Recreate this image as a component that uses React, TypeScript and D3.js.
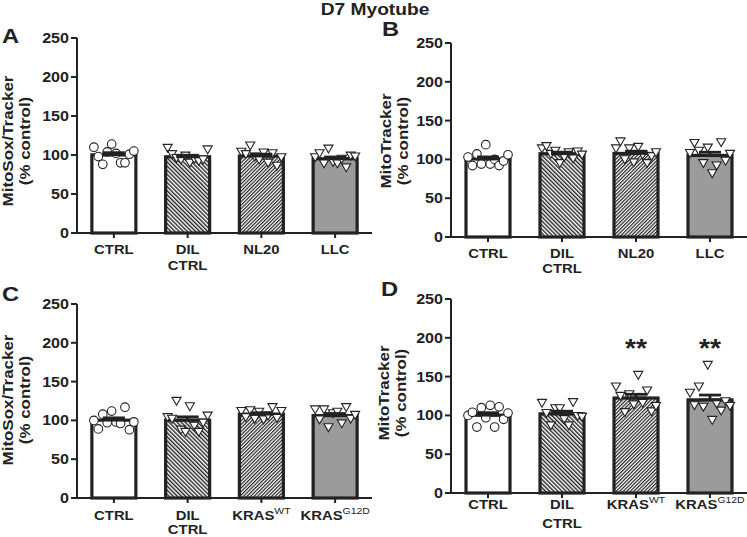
import React from "react";
import * as d3 from "d3";

const W = 747;
const H = 537;

const title = "D7 Myotube";
const yTicks = [0, 50, 100, 150, 200, 250];
const yMax = 250;

// category labels
const catsTop = [
  { main: "CTRL" },
  { main: "DIL", line2: "CTRL" },
  { main: "NL20" },
  { main: "LLC" },
];
const catsBottom = [
  { main: "CTRL" },
  { main: "DIL", line2: "CTRL" },
  { main: "KRAS", sup: "WT" },
  { main: "KRAS", sup: "G12D" },
];

// Panel A: MitoSox/Tracker (individual values, left to right within each bar)
const aCtrl = [110, 98, 88, 104, 114, 102, 90, 90, 101, 105];
const aDil = [109, 101, 96, 94, 99, 90, 95, 92, 94, 107];
const aNl20 = [104, 101, 112, 98, 94, 103, 90, 102, 86, 97];
const aLlc = [97, 102, 89, 108, 91, 89, 95, 84, 99, 98];

// Panel B: MitoTracker
const bCtrl = [103, 92, 107, 94, 119, 94, 100, 92, 98, 106];
const bDil = [114, 117, 107, 111, 95, 103, 109, 101, 110, 106];
const bNl20 = [114, 123, 100, 114, 96, 116, 106, 95, 104, 109];
const bLlc = [108, 121, 111, 95, 115, 82, 92, 122, 98, 107];

// Panel C: MitoSox/Tracker
const cCtrl = [100, 89, 108, 97, 112, 98, 96, 117, 88, 98];
const cDil = [104, 102, 125, 88, 85, 118, 93, 85, 97, 106];
const cKrasWt = [112, 104, 113, 102, 111, 101, 106, 117, 103, 112];
const cKrasG12d = [114, 101, 114, 91, 109, 111, 96, 117, 102, 107];

// Panel D: MitoTracker
const dCtrl = [100, 104, 85, 110, 97, 113, 85, 111, 95, 103];
const dDil = [116, 103, 87, 109, 109, 95, 87, 117, 99, 98];
const dKrasWt = [137, 125, 104, 127, 114, 152, 116, 132, 105, 112];
const dKrasG12d = [129, 113, 137, 111, 165, 94, 115, 106, 118, 112];

const dStars = ["", "", "**", "**"];
const starLevel = 193;

const FONT = "'Liberation Sans', Arial, Helvetica, sans-serif";
const INK = "#222";
const GRAY = "#9b9b9b";
const TX = 1.13; // horizontal text stretch

const panels = [
  {
    letter: "A", ylab: "MitoSox/Tracker", cats: catsTop,
    series: [aCtrl, aDil, aNl20, aLlc], stars: null,
    L: { ax: 77, axEnd: 372, y0: 233, y250: 38, lx: 2, ly: 43, yl1: 13, yl2: 30, ylc: 141, t1: 254, t2: 270 },
  },
  {
    letter: "B", ylab: "MitoTracker", cats: catsTop,
    series: [bCtrl, bDil, bNl20, bLlc], stars: null,
    L: { ax: 451, axEnd: 747, y0: 237, y250: 43, lx: 382, ly: 36, yl1: 391, yl2: 408, ylc: 141, t1: 258, t2: 273 },
  },
  {
    letter: "C", ylab: "MitoSox/Tracker", cats: catsBottom,
    series: [cCtrl, cDil, cKrasWt, cKrasG12d], stars: null,
    L: { ax: 77, axEnd: 372, y0: 498, y250: 304, lx: 2, ly: 301, yl1: 13, yl2: 30, ylc: 400, t1: 520, t2: 534 },
  },
  {
    letter: "D", ylab: "MitoTracker", cats: catsBottom,
    series: [dCtrl, dDil, dKrasWt, dKrasG12d], stars: dStars,
    L: { ax: 451, axEnd: 747, y0: 493, y250: 299, lx: 381, ly: 296, yl1: 389, yl2: 406, ylc: 393, t1: 509, t2: 528 },
  },
];

const fills = ["#fff", "url(#hatchBack)", "url(#hatchFwd)", GRAY];

const triPath = d3.symbol().type(d3.symbolTriangle).size(36)() as string;

function Panel({ p }: { p: any }) {
  const L = p.L;
  const y = d3.scaleLinear().domain([0, yMax]).range([L.y0, L.y250]);
  const x = d3.scalePoint<number>().domain(d3.range(p.cats.length)).range([L.ax, L.axEnd]).padding(0.5);
  const bw = 44;
  return (
    <g>
      {/* panel letter */}
      <g transform={`translate(${L.lx},${L.ly}) scale(${TX},1)`}>
        <text fontSize={21} fontWeight="bold" fontFamily={FONT} fill={INK}>{p.letter}</text>
      </g>
      {/* y label */}
      <g transform={`translate(${L.yl1},${L.ylc}) rotate(-90) scale(${TX},1)`}>
        <text textAnchor="middle" fontSize={15} fontWeight="bold" fontFamily={FONT} fill={INK}>{p.ylab}</text>
      </g>
      <g transform={`translate(${L.yl2},${L.ylc}) rotate(-90) scale(${TX},1)`}>
        <text textAnchor="middle" fontSize={15} fontWeight="bold" fontFamily={FONT} fill={INK}>(% control)</text>
      </g>
      {/* bars */}
      {p.series.map((vals: number[], i: number) => {
        const m = d3.mean(vals) as number;
        const cx = x(i) as number;
        return (
          <rect key={"b" + i} x={cx - bw / 2} y={y(m)} width={bw} height={L.y0 - y(m)}
            fill={fills[i]} stroke={INK} strokeWidth={3.2} />
        );
      })}
      {/* points */}
      {p.series.map((vals: number[], i: number) => {
        const cx = x(i) as number;
        const jx = d3.scalePoint<number>().domain(d3.range(vals.length)).range([cx - 20, cx + 20]);
        return (
          <g key={"p" + i}>
            {vals.map((v, j) =>
              i === 0 ? (
                <circle key={j} cx={jx(j)} cy={y(v)} r={4.3} fill="#fff" stroke={INK} strokeWidth={1.1} />
              ) : (
                <path key={j} d={triPath} transform={`translate(${jx(j)},${y(v) - 1}) rotate(180)`}
                  fill="#fff" stroke={INK} strokeWidth={1.1} />
              )
            )}
          </g>
        );
      })}
      {/* mean + SEM */}
      {p.series.map((vals: number[], i: number) => {
        const m = d3.mean(vals) as number;
        const sem = (d3.deviation(vals) as number) / Math.sqrt(vals.length);
        const cx = x(i) as number;
        return (
          <g key={"e" + i} stroke={INK} strokeWidth={2.8}>
            <line x1={cx - 11} x2={cx + 11} y1={y(m)} y2={y(m)} />
            <line x1={cx} x2={cx} y1={y(m)} y2={y(m + sem)} />
            <line x1={cx - 11} x2={cx + 11} y1={y(m + sem)} y2={y(m + sem)} />
          </g>
        );
      })}
      {/* stars */}
      {p.stars && p.stars.map((s: string, i: number) => s ? (
        <g key={"s" + i} transform={`translate(${x(i) as number},${y(starLevel) + 14}) scale(${TX},1)`}>
          <text textAnchor="middle" fontSize={25} fontWeight="bold" fontFamily={FONT} fill={INK}>{s}</text>
        </g>
      ) : null)}
      {/* y axis */}
      <line x1={L.ax} x2={L.ax} y1={L.y0} y2={L.y250} stroke={INK} strokeWidth={2} />
      {yTicks.map((t) => (
        <g key={"yt" + t}>
          <line x1={L.ax - 6} x2={L.ax} y1={y(t)} y2={y(t)} stroke={INK} strokeWidth={2} />
          <g transform={`translate(${L.ax - 8},${y(t)}) scale(1.15,1)`}>
            <text textAnchor="end" dy="0.36em" fontSize={14} fontWeight="bold" fontFamily={FONT} fill={INK}>{t}</text>
          </g>
        </g>
      ))}
      {/* x axis */}
      <line x1={L.ax - 1} x2={L.axEnd} y1={L.y0} y2={L.y0} stroke={INK} strokeWidth={2} />
      {p.cats.map((c: any, i: number) => {
        const cx = x(i) as number;
        return (
          <g key={"xt" + i}>
            <line x1={cx} x2={cx} y1={L.y0} y2={L.y0 + 5} stroke={INK} strokeWidth={2} />
            <g transform={`translate(${cx},${L.t1}) scale(1.1,1)`}>
              <text textAnchor="middle" fontSize={13.5} fontWeight="bold" fontFamily={FONT} fill={INK}>
                {c.main}
                {c.sup ? <tspan fontSize={9.5} dy={-6} fontWeight="normal">{c.sup}</tspan> : null}
              </text>
            </g>
            {c.line2 ? (
              <g transform={`translate(${cx},${L.t2}) scale(1.1,1)`}>
                <text textAnchor="middle" fontSize={13.5} fontWeight="bold" fontFamily={FONT} fill={INK}>{c.line2}</text>
              </g>
            ) : null}
          </g>
        );
      })}
    </g>
  );
}

export default function App() {
  return (
    <svg width={W} height={H} style={{ position: "absolute", left: 0, top: 0, background: "#fff" }}>
      <defs>
        <pattern id="hatchBack" patternUnits="userSpaceOnUse" width={2.9} height={2.9} patternTransform="rotate(-45)">
          <rect width={2.9} height={2.9} fill="#fff" />
          <line x1={0.7} y1={0} x2={0.7} y2={2.9} stroke={INK} strokeWidth={1.4} />
        </pattern>
        <pattern id="hatchFwd" patternUnits="userSpaceOnUse" width={2.5} height={2.5} patternTransform="rotate(45)">
          <rect width={2.5} height={2.5} fill="#fff" />
          <line x1={0.6} y1={0} x2={0.6} y2={2.5} stroke={INK} strokeWidth={1.2} />
        </pattern>
      </defs>
      <rect width={W} height={H} fill="#fff" />
      <g transform={`translate(375,15) scale(1.2,1)`}>
        <text textAnchor="middle" fontSize={16} fontWeight="bold" fontFamily={FONT} fill={INK}>{title}</text>
      </g>
      {panels.map((p, i) => (
        <Panel key={i} p={p} />
      ))}
    </svg>
  );
}
